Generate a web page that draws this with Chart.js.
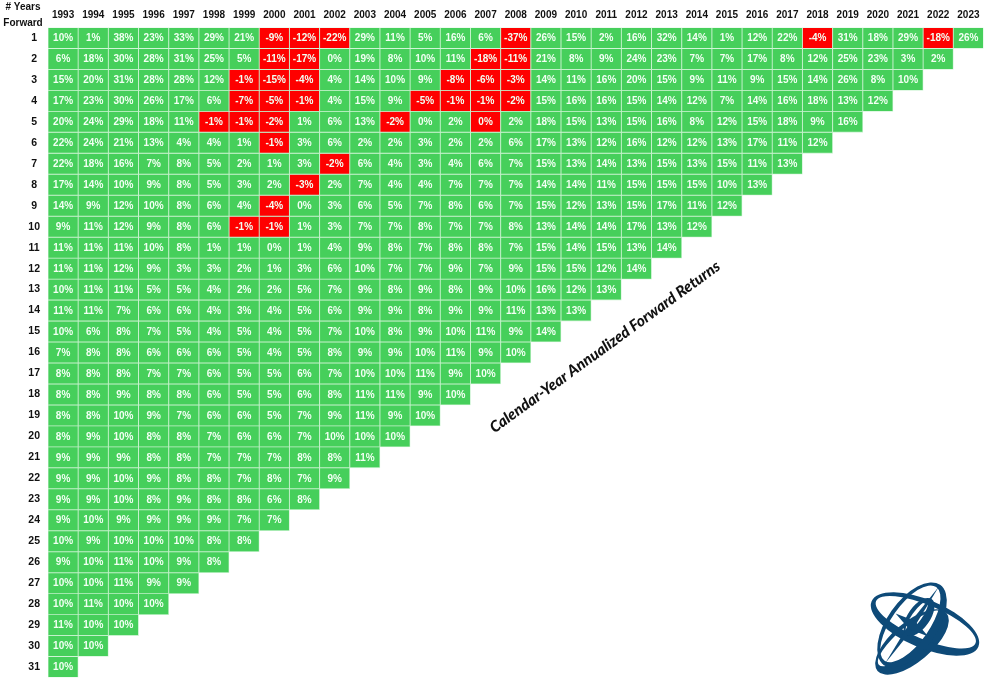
<!DOCTYPE html>
<html><head><meta charset="utf-8">
<style>html,body{margin:0;padding:0;background:#fff}#w{position:absolute;left:0;top:0;width:988px;height:683px}</style>
<script src="https://cdn.jsdelivr.net/npm/chart.js@4/dist/chart.umd.min.js"></script>
</head><body><div id="w"><canvas id="c" width="988" height="683"></canvas></div>
<script>
const years=[1993,1994,1995,1996,1997,1998,1999,2000,2001,2002,2003,2004,2005,2006,2007,2008,2009,2010,2011,2012,2013,2014,2015,2016,2017,2018,2019,2020,2021,2022,2023];
const forward1=[10,1,38,23,33,29,21,-9,-12,-22,29,11,5,16,6,-37,26,15,2,16,32,14,1,12,22,-4,31,18,29,-18,26];
const forward2=[6,18,30,28,31,25,5,-11,-17,0,19,8,10,11,-18,-11,21,8,9,24,23,7,7,17,8,12,25,23,3,2];
const forward3=[15,20,31,28,28,12,-1,-15,-4,4,14,10,9,-8,-6,-3,14,11,16,20,15,9,11,9,15,14,26,8,10];
const forward4=[17,23,30,26,17,6,-7,-5,-1,4,15,9,-5,-1,-1,-2,15,16,16,15,14,12,7,14,16,18,13,12];
const forward5=[20,24,29,18,11,-1,-1,-2,1,6,13,-2,0,2,-0.4,2,18,15,13,15,16,8,12,15,18,9,16];
const forward6=[22,24,21,13,4,4,1,-1,3,6,2,2,3,2,2,6,17,13,12,16,12,12,13,17,11,12];
const forward7=[22,18,16,7,8,5,2,1,3,-2,6,4,3,4,6,7,15,13,14,13,15,13,15,11,13];
const forward8=[17,14,10,9,8,5,3,2,-3,2,7,4,4,7,7,7,14,14,11,15,15,15,10,13];
const forward9=[14,9,12,10,8,6,4,-4,0,3,6,5,7,8,6,7,15,12,13,15,17,11,12];
const forward10=[9,11,12,9,8,6,-1,-1,1,3,7,7,8,7,7,8,13,14,14,17,13,12];
const forward11=[11,11,11,10,8,1,1,0,1,4,9,8,7,8,8,7,15,14,15,13,14];
const forward12=[11,11,12,9,3,3,2,1,3,6,10,7,7,9,7,9,15,15,12,14];
const forward13=[10,11,11,5,5,4,2,2,5,7,9,8,9,8,9,10,16,12,13];
const forward14=[11,11,7,6,6,4,3,4,5,6,9,9,8,9,9,11,13,13];
const forward15=[10,6,8,7,5,4,5,4,5,7,10,8,9,10,11,9,14];
const forward16=[7,8,8,6,6,6,5,4,5,8,9,9,10,11,9,10];
const forward17=[8,8,8,7,7,6,5,5,6,7,10,10,11,9,10];
const forward18=[8,8,9,8,8,6,5,5,6,8,11,11,9,10];
const forward19=[8,8,10,9,7,6,6,5,7,9,11,9,10];
const forward20=[8,9,10,8,8,7,6,6,7,10,10,10];
const forward21=[9,9,9,8,8,7,7,7,8,8,11];
const forward22=[9,9,10,9,8,8,7,8,7,9];
const forward23=[9,9,10,8,9,8,8,6,8];
const forward24=[9,10,9,9,9,9,7,7];
const forward25=[10,9,10,10,10,8,8];
const forward26=[9,10,11,10,9,8];
const forward27=[10,10,11,9,9];
const forward28=[10,11,10,10];
const forward29=[11,10,10];
const forward30=[10,10];
const forward31=[10];
const table=[forward1,forward2,forward3,forward4,forward5,forward6,forward7,forward8,forward9,forward10,forward11,forward12,forward13,forward14,forward15,forward16,forward17,forward18,forward19,forward20,forward21,forward22,forward23,forward24,forward25,forward26,forward27,forward28,forward29,forward30,forward31];
const rowLabels=table.map((_,i)=>i+1);
const GREEN='#46cf5b',RED='#fe0000';

const datasets=table.map((vals,r)=>({
  label:String(r+1),
  returns:vals,
  data:years.map((y,i)=>i<vals.length?[r+0.5,r+1.5]:null),
  backgroundColor:years.map((y,i)=>vals[i]<0?RED:GREEN),
  borderColor:'rgba(190,240,198,0.85)',
  borderWidth:0.8,
  borderSkipped:false,
  grouped:false,
  barPercentage:1,
  categoryPercentage:1
}));

const cellText={id:'cellText',afterDatasetsDraw(ch){
  const x=ch.ctx;x.save();
  x.font='bold 10px "Liberation Sans"';x.fillStyle='#f2fff3';x.textAlign='center';x.textBaseline='middle';
  ch.data.datasets.forEach((d,ri)=>{
    ch.getDatasetMeta(ri).data.forEach((bar,i)=>{
      const v=d.returns[i];
      if(v===undefined)return;
      const c=bar.getCenterPoint();
      x.fillText(Math.round(v)+'%',c.x,c.y+0.5);
    });
  });
  x.restore();
}};

const decor={id:'decor',afterDraw(ch){
  const x=ch.ctx;x.save();
  x.fillStyle='#111';x.textAlign='center';x.textBaseline='middle';
  x.font='bold 10px "Liberation Sans"';
  x.fillText('# Years',23,7);
  x.fillText('Forward',23,23);
  x.translate(605,347);x.rotate(-36*Math.PI/180);
  x.font='italic 900 15.4px Lato';
  x.fillText('Calendar-Year Annualized Forward Returns',0,0);
  x.restore();
  drawLogo(x);
}};
function ring(x,cx,cy,a,b,rot,ia,ib,dx,dy){
  x.save();x.translate(cx,cy);x.rotate(rot*Math.PI/180);
  x.beginPath();x.ellipse(0,0,a,b,0,0,Math.PI*2);
  x.ellipse(dx,dy,ia,ib,0,0,Math.PI*2);
  x.fill('evenodd');x.restore();
}
function drawLogo(x){
  x.save();x.fillStyle='#0e4a78';
  ring(x,912,642,45,20,-40,41,12,1,-4);
  ring(x,925,624,58,24,23,54,17,0,-2);
  ring(x,912,625,49,25,-55,45,19,0,-2);
  ring(x,919,617,22,11,-55,18,5,-1,-2);
  x.translate(912,625);x.rotate(-55*Math.PI/180);
  x.beginPath();x.moveTo(47,0);x.lineTo(0,3);x.lineTo(-47,0);x.lineTo(0,-3);x.closePath();x.fill();
  x.beginPath();x.moveTo(0,-20);x.lineTo(5,0);x.lineTo(0,20);x.lineTo(-5,0);x.closePath();x.fill();
  x.restore();
}

new Chart(document.getElementById('c'),{
  type:'bar',
  data:{labels:years.map(String),datasets},
  plugins:[cellText,decor],
  options:{
    responsive:false,animation:false,
    layout:{padding:{right:4.5,bottom:5.5}},
    plugins:{legend:{display:false},tooltip:{enabled:false},title:{display:false}},
    scales:{
      x:{position:'top',offset:true,grid:{display:false,drawTicks:false},border:{display:false},
         ticks:{autoSkip:false,maxRotation:0,minRotation:0,padding:6,color:'#111',font:{family:'"Liberation Sans"',size:10,weight:'bold'}},
         afterFit(s){s.height=27.5}},
      y:{type:'linear',reverse:true,min:0.5,max:31.5,grid:{display:false},border:{display:false},
         afterBuildTicks(s){s.ticks=rowLabels.map(v=>({value:v}))},
         ticks:{autoSkip:false,padding:0,align:'center',crossAlign:'center',color:'#111',font:{family:'"Liberation Sans"',size:10.5,weight:'bold'},callback:v=>String(v)},
         afterFit(s){s.width=48;s.paddingTop=0;s.paddingBottom=0}}
    }
  }
});
</script></body></html>
